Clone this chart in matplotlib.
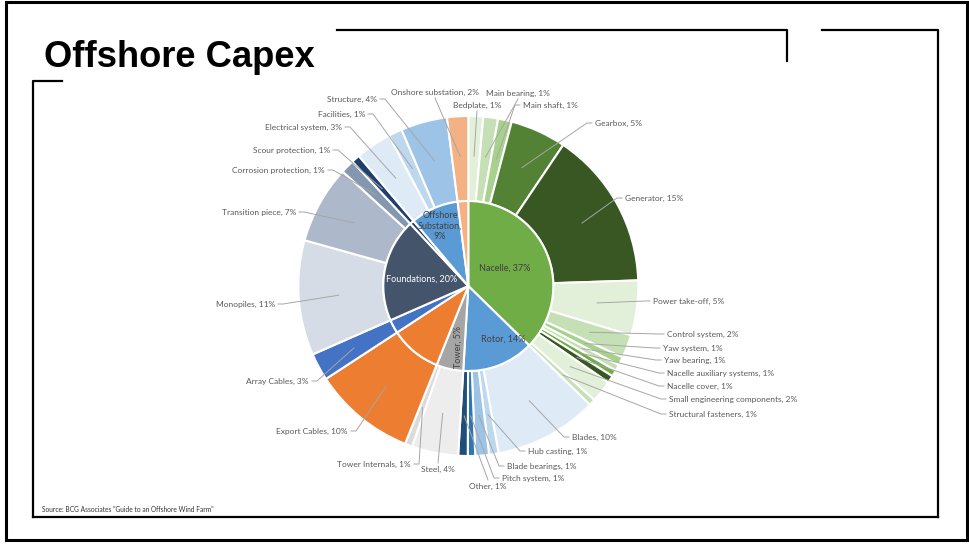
import numpy as np
import matplotlib.pyplot as plt
from matplotlib.patches import Rectangle

# capex breakdown, % of total offshore wind farm cost
nacelle_parts = ["Bedplate", "Main bearing", "Main shaft", "Gearbox", "Generator",
                 "Power take-off", "Control system", "Yaw system", "Yaw bearing",
                 "Nacelle auxiliary systems", "Nacelle cover",
                 "Small engineering components", "Structural fasteners"]
nacelle_vals = [1.4, 1.4, 1.3, 5.3, 15.0, 5.2, 2.2, 0.8, 0.6, 0.6, 0.7, 2.1, 0.6]

rotor_parts = ["Blades", "Hub casting", "Blade bearings", "Pitch system", "Other"]
rotor_vals = [9.8, 0.9, 1.3, 0.7, 0.9]

tower_parts = ["Steel", "Tower Internals"]
tower_vals = [4.4, 0.7]

foundation_parts = ["Monopiles", "Transition piece", "Corrosion protection"]
foundation_vals = [10.9, 7.4, 1.3]

substation_parts = ["Electrical system", "Facilities", "Structure"]
substation_vals = [3.4, 1.3, 4.4]

export_cables = 9.7
array_cables = 2.6
scour_protection = 0.8
onshore_substation = 2.0

# clockwise from 12 o'clock; parts=None means the item has no breakdown
groups = [
    ("Nacelle", nacelle_parts, nacelle_vals),
    ("Rotor", rotor_parts, rotor_vals),
    ("Tower", tower_parts, tower_vals),
    ("Export Cables", None, [export_cables]),
    ("Array Cables", None, [array_cables]),
    ("Foundations", foundation_parts, foundation_vals),
    ("Scour protection", None, [scour_protection]),
    ("Offshore Substation", substation_parts, substation_vals),
    ("Onshore substation", None, [onshore_substation]),
]

group_colors = {
    "Nacelle": "#70AD47", "Rotor": "#5B9BD5", "Tower": "#A5A5A5",
    "Export Cables": "#ED7D31", "Array Cables": "#4472C4",
    "Foundations": "#44546A", "Scour protection": "#1F3F6E",
    "Offshore Substation": "#5B9BD5", "Onshore substation": "#F4B183",
}
part_colors = {
    "Bedplate": "#E2F0D9", "Main bearing": "#C5E0B4", "Main shaft": "#A9D18E",
    "Gearbox": "#548235", "Generator": "#385723", "Power take-off": "#E2F0D9",
    "Control system": "#C5E0B4", "Yaw system": "#A9D18E", "Yaw bearing": "#C5E0B4",
    "Nacelle auxiliary systems": "#70AD47", "Nacelle cover": "#385723",
    "Small engineering components": "#E2F0D9", "Structural fasteners": "#C5E0B4",
    "Blades": "#DEEBF7", "Hub casting": "#BDD7EE", "Blade bearings": "#9DC3E6",
    "Pitch system": "#2E75B6", "Other": "#1F4E79",
    "Steel": "#EDEDED", "Tower Internals": "#DBDBDB",
    "Monopiles": "#D6DCE5", "Transition piece": "#ADB9CA",
    "Corrosion protection": "#8497B0",
    "Electrical system": "#DEEBF7", "Facilities": "#BDD7EE", "Structure": "#9DC3E6",
}

# where each outer label sits (pixels): text x, text y, side of the leader
label_spots = {
    "Bedplate": (477, 105, "t"), "Main bearing": (518, 93, "t"),
    "Main shaft": (523, 105, "r"), "Gearbox": (595, 123, "r"),
    "Generator": (625, 198, "r"), "Power take-off": (653, 301, "r"),
    "Control system": (667, 334, "r"), "Yaw system": (663, 348, "r"),
    "Yaw bearing": (664, 360, "r"), "Nacelle auxiliary systems": (667, 373, "r"),
    "Nacelle cover": (667, 386, "r"), "Small engineering components": (669, 399, "r"),
    "Structural fasteners": (669, 414, "r"),
    "Blades": (572, 437, "r"), "Hub casting": (528, 451, "r"),
    "Blade bearings": (507, 466, "r"), "Pitch system": (502, 478, "r"),
    "Other": (488, 486, "b"),
    "Steel": (438, 469, "b"), "Tower Internals": (411, 464, "l"),
    "Export Cables": (348, 431, "l"), "Array Cables": (309, 381, "l"),
    "Monopiles": (275, 304, "l"), "Transition piece": (296, 212, "l"),
    "Corrosion protection": (325, 170, "l"), "Scour protection": (330, 150, "l"),
    "Electrical system": (342, 127, "l"), "Facilities": (365, 114, "l"),
    "Structure": (377, 99, "l"), "Onshore substation": (435, 92, "t"),
}

cx, cy = 468.3, 286.0
r_out, r_in = 170, 85

leaf_names, leaf_vals, leaf_cols = [], [], []
grp_names, grp_vals, grp_cols = [], [], []
for gname, parts, vals in groups:
    grp_names.append(gname)
    grp_vals.append(sum(vals))
    grp_cols.append(group_colors[gname])
    if parts is None:
        leaf_names.append(gname)
        leaf_vals.append(vals[0])
        leaf_cols.append(group_colors[gname])
    else:
        leaf_names += parts
        leaf_vals += vals
        leaf_cols += [part_colors[p] for p in parts]

total = sum(leaf_vals)

fig = plt.figure(figsize=(9.69, 5.44), dpi=100)
ax = fig.add_axes([0, 0, 1, 1])

# y axis runs downward, so start at -90 and count "counterclockwise" to go clockwise on screen
ax.pie(leaf_vals, colors=leaf_cols, radius=r_out, center=(cx, cy),
       startangle=-90, counterclock=True,
       wedgeprops=dict(width=r_out - r_in, edgecolor="white", linewidth=1.5))
ax.pie(grp_vals, colors=grp_cols, radius=r_in, center=(cx, cy),
       startangle=-90, counterclock=True,
       wedgeprops=dict(edgecolor="white", linewidth=1.5))

ax.set_xlim(0, 969)
ax.set_ylim(544, 0)
ax.set_aspect("equal")
ax.axis("off")

lab_font = dict(family=["Lato", "DejaVu Sans"], fontsize=6, color="#595959")
line_col = "#A6A6A6"

cum = np.cumsum([0] + leaf_vals)
for i, name in enumerate(leaf_names):
    mid = np.radians(360 * (cum[i] + cum[i + 1]) / 2 / total)
    px = cx + 130 * np.sin(mid)
    py = cy - 130 * np.cos(mid)
    tx, ty, side = label_spots[name]
    text = f"{name}, {100 * leaf_vals[i] / total:.0f}%"
    if side == "r":
        ax.plot([px, tx - 8, tx - 3], [py, ty, ty], color=line_col, lw=0.7)
        ax.text(tx, ty, text, ha="left", va="center", **lab_font)
    elif side == "l":
        ax.plot([px, tx + 8, tx + 3], [py, ty, ty], color=line_col, lw=0.7)
        ax.text(tx, ty, text, ha="right", va="center", **lab_font)
    elif side == "t":
        ax.plot([px, tx], [py, ty + 6], color=line_col, lw=0.7)
        ax.text(tx, ty, text, ha="center", va="center", **lab_font)
    else:
        ax.plot([px, tx], [py, ty - 6], color=line_col, lw=0.7)
        ax.text(tx, ty, text, ha="center", va="center", **lab_font)

# labels inside the inner ring
in_font = dict(family=["Lato", "DejaVu Sans"], fontsize=6.5, color="#404040")
pct = {g: 100 * v / total for g, v in zip(grp_names, grp_vals)}
ax.text(505, 268, f"Nacelle, {pct['Nacelle']:.0f}%", ha="center", va="center", **in_font)
ax.text(503, 339, f"Rotor, {pct['Rotor']:.0f}%", ha="center", va="center", **in_font)
ax.text(458, 347, f"Tower, {pct['Tower']:.0f}%", ha="center", va="center",
        rotation=90, **in_font)
ax.text(422, 279, f"Foundations, {pct['Foundations']:.0f}%", ha="center", va="center",
        family=["Lato", "DejaVu Sans"], fontsize=6.5, color="white")
ax.text(440, 226, f"Offshore\nSubstation,\n{pct['Offshore Substation']:.0f}%",
        ha="center", va="center", linespacing=1.15, **in_font)

# slide furniture
ax.text(44, 66.7, "Offshore Capex", fontsize=26.2, fontweight="bold",
        family="Liberation Sans", ha="left", va="baseline", color="black")
ax.text(42, 509.5, "Source: BCG Associates \"Guide to an Offshore Wind Farm\"",
        fontsize=4.8, family=["Lato", "DejaVu Sans"], color="#333333",
        ha="left", va="center")

frame = dict(color="black", lw=1.6, solid_capstyle="projecting", clip_on=False)
ax.plot([337, 787, 787], [29.5, 29.5, 61], **frame)
ax.plot([822, 938, 938], [29.5, 29.5, 517], **frame)
ax.plot([33, 938], [517, 517], **frame)
ax.plot([62, 33, 33], [81, 81, 517], **frame)
ax.add_patch(Rectangle((6, 2), 961, 538, fill=False, edgecolor="black", lw=2.2,
                       clip_on=False))

fig.savefig("out.png", dpi=100)
